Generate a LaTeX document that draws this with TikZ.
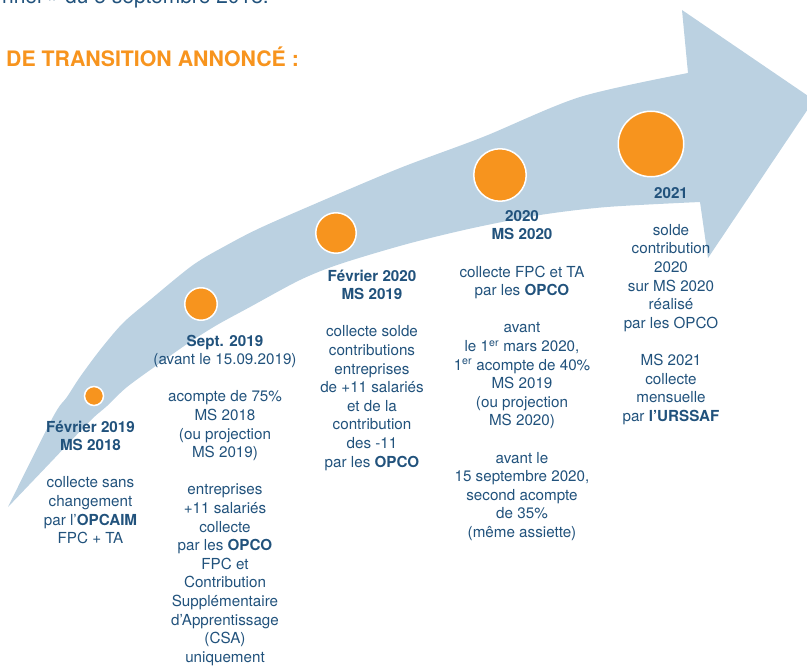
\documentclass[tikz,border=0pt]{standalone}
\usepackage{fontspec}
\setmainfont{TeX Gyre Heros}
\definecolor{bandblue}{RGB}{187,209,225}
\definecolor{dotorange}{RGB}{247,148,30}
\definecolor{textblue}{RGB}{33,82,124}
\begin{document}
\begin{tikzpicture}[x=1pt,y=-1pt,
  txt/.style={align=center, inner sep=0pt, text=textblue, anchor=base,
    font=\fontsize{15.2}{18.6}\selectfont},
  dot/.style={circle, fill=dotorange, draw=white, line width=1.5pt, inner sep=0pt}]
\useasboundingbox (0,0) rectangle (807,666);
\begin{scope}
\clip (0,0) rectangle (807,666);
% curved arrow band
\fill[bandblue] plot[smooth, tension=0.5] coordinates {(8,507) (53,417) (67,397) (80,377) (100,350) (123,323) (150,300) (193,265) (227,245) (260,228) (317,203) (400,168) (483,137) (580,97) (688,73)}
  -- (682,10) -- (814,100) -- (708,258) -- (700,202)
  -- plot[smooth, tension=0.5] coordinates {(700,202) (607,207) (540,215) (473,228) (407,244) (340,264) (300,280) (250,307) (217,325) (190,342) (160,363) (127,387) (107,406) (90,421) (50,463) (8,507)}
  -- cycle;
% cropped header text
\node[anchor=base east, inner sep=0pt, text=textblue, font=\fontsize{21}{25}\selectfont] (head) at (269,3.5) {nnel » du 5 septembre 2018.};
\end{scope}
\node[anchor=base west, inner sep=0pt, text=dotorange, font=\fontsize{21.3}{25}\selectfont\bfseries] (title) at (6,66.7) {DE TRANSITION ANNONCÉ :};
% milestones
\node[dot, minimum size=19pt] (c1) at (94,396) {};
\node[dot, minimum size=32.5pt] (c2) at (201,304) {};
\node[dot, minimum size=40.5pt] (c3) at (336,233) {};
\node[dot, minimum size=52.5pt] (c4) at (500,175) {};
\node[dot, minimum size=65.5pt] (c5) at (651,144) {};
% texts (anchor = baseline of the last line)
\node[txt] (t1) at (90.5,543.6) {\textbf{Février 2019}\\\textbf{MS 2018}\\[18.6pt]collecte sans\\changement\\par l’\textbf{OPCAIM}\\FPC + TA};
\node[txt] (t2) at (225,662.2) {\textbf{Sept. 2019}\\(avant le 15.09.2019)\\[18.6pt]acompte de 75\%\\MS 2018\\(ou projection\\MS 2019)\\[18.6pt]entreprises\\+11 salariés\\collecte\\par les \textbf{OPCO}\\FPC et\\Contribution\\Supplémentaire\\d’Apprentissage\\(CSA)\\uniquement};
\node[txt] (t3) at (372,467) {\textbf{Février 2020}\\\textbf{MS 2019}\\[18.6pt]collecte solde\\contributions\\entreprises\\de +11 salariés\\et de la\\contribution\\des -11\\par les \textbf{OPCO}};
\node[txt] (t4) at (522,537.5) {\textbf{2020}\\\textbf{MS 2020}\\[18.6pt]collecte FPC et TA\\par les \textbf{OPCO}\\[18.6pt]avant\\le 1\textsuperscript{er} mars 2020,\\1\textsuperscript{er} acompte de 40\%\\MS 2019\\(ou projection\\MS 2020)\\[18.6pt]avant le\\15 septembre 2020,\\second acompte\\de 35\%\\(même assiette)};
\node[txt] (t5) at (671,421.3) {\textbf{2021}\\[18.6pt]solde\\contribution\\2020\\sur MS 2020\\réalisé\\par les OPCO\\[18.6pt]MS 2021\\collecte\\mensuelle\\par \textbf{l’URSSAF}};
\end{tikzpicture}
\end{document}
